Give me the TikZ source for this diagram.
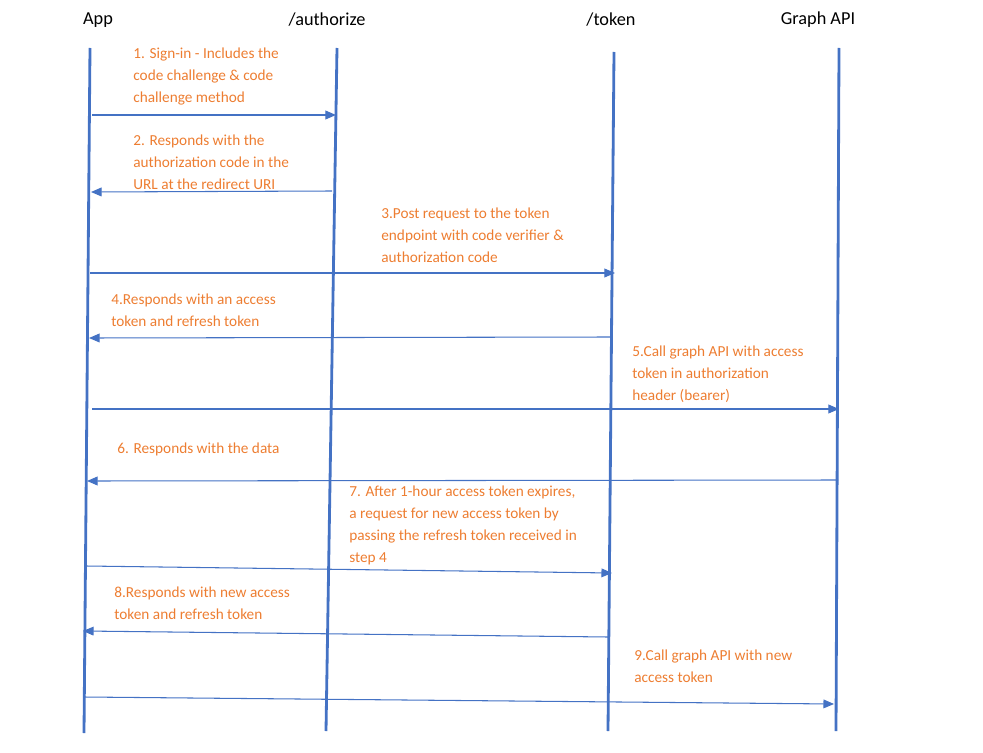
\documentclass[tikz,border=0pt]{standalone}
\usepackage{fontspec}
\setmainfont{Carlito}
\usetikzlibrary{arrows.meta}
\definecolor{lineblue}{HTML}{4472C4}
\definecolor{msgorange}{HTML}{ED7D31}
\tikzset{
  life/.style={draw=lineblue,line width=1.6pt},
  msg/.style={draw=lineblue,line width=0.6pt,-{Triangle[length=6pt,width=5pt]}},
  head/.style={font=\fontsize{10.4}{12}\selectfont},
  note/.style={anchor=north west,align=left,inner sep=0pt,text=msgorange,
    font=\fontsize{8.7}{12.5}\selectfont}
}
\begin{document}
\begin{tikzpicture}[x=0.02cm,y=-0.02cm]
\useasboundingbox (0,0) rectangle (983,753);
% headers
\node[head] (happ) at (98,20) {App};
\node[head] (hauth) at (327,20) {/authorize};
\node[head] (htok) at (611,20) {/token};
\node[head] (hapi) at (818,20) {Graph API};
% lifelines
\draw[life] (90,48) -- (84,733);
\draw[life] (337,48) -- (326,731);
\draw[life] (614,52) -- (608,731);
\draw[life] (839,48) -- (836,731);
% message ends
\coordinate (s1) at (92,115);  \coordinate (e1) at (336,115);
\coordinate (s2) at (332,191); \coordinate (e2) at (91,192);
\coordinate (s3) at (90,273);  \coordinate (e3) at (615,273);
\coordinate (s4) at (610,337); \coordinate (e4) at (89,338);
\coordinate (s5) at (92,409);  \coordinate (e5) at (839,409);
\coordinate (s6) at (838,480); \coordinate (e6) at (87,481);
\coordinate (s7) at (86,566);  \coordinate (e7) at (612,573);
\coordinate (s8) at (608,637); \coordinate (e8) at (83,631);
\coordinate (s9) at (84,697);  \coordinate (e9) at (834,704);
\foreach \i in {1,...,9} \draw[msg] (s\i) -- (e\i);
% labels
\node[note] (n1) at (133,48) {1. Sign-in - Includes the\\code challenge \& code\\challenge method};
\node[note] (n2) at (133,135) {2. Responds with the\\authorization code in the\\URL at the redirect URI};
\node[note] (n3) at (381,208) {3.Post request to the token\\endpoint with code verifier \&\\authorization code};
\node[note] (n4) at (111,294) {4.Responds with an access\\token and refresh token};
\node[note] (n5) at (632,346) {5.Call graph API with access\\token in authorization\\header (bearer)};
\node[note] (n6) at (117,443) {6. Responds with the data};
\node[note] (n7) at (349,486) {7. After 1-hour access token expires,\\a request for new access token by\\passing the refresh token received in\\step 4};
\node[note] (n8) at (114,587) {8.Responds with new access\\token and refresh token};
\node[note] (n9) at (634,650) {9.Call graph API with new\\access token};
\end{tikzpicture}
\end{document}
